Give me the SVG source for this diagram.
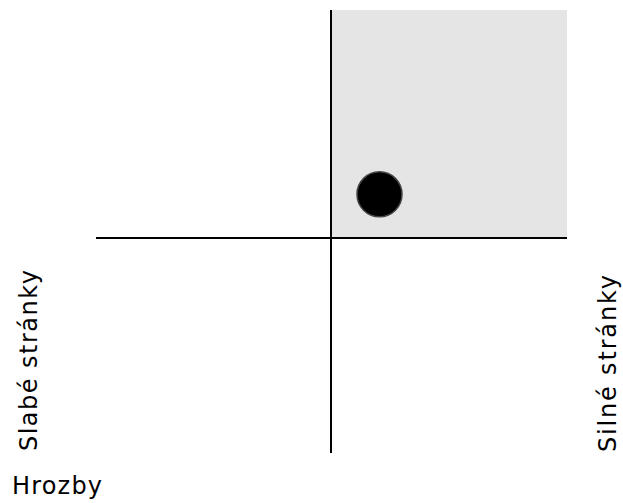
<svg xmlns="http://www.w3.org/2000/svg" width="623" height="503" viewBox="0 0 623 503">
<style>
.lbl{font-family:"DejaVu Sans",Verdana,sans-serif;font-size:24px;fill:#000}
.ax{stroke:#000;stroke-width:2;fill:none}
</style>
<rect width="623" height="503" fill="#fff"/>
<g id="quadrant">
<rect x="331" y="10" width="236" height="228" fill="#e5e5e5"/>
</g>
<g id="connectors">
<line class="ax" x1="331" y1="10" x2="331" y2="453"/>
<line class="ax" x1="96" y1="238" x2="567" y2="238"/>
</g>
<g id="point">
<circle cx="379.5" cy="194.3" r="22.5" fill="#000" stroke="#444" stroke-width="1.5"/>
</g>
<g id="labels">
<text class="lbl" x="12" y="494" textLength="90" lengthAdjust="spacing">Hrozby</text>
<text class="lbl" transform="translate(37,451) rotate(-90)" textLength="181" lengthAdjust="spacing">Slabé stránky</text>
<text class="lbl" transform="translate(616,452) rotate(-90)" textLength="177" lengthAdjust="spacing">Silné stránky</text>
</g>
</svg>
